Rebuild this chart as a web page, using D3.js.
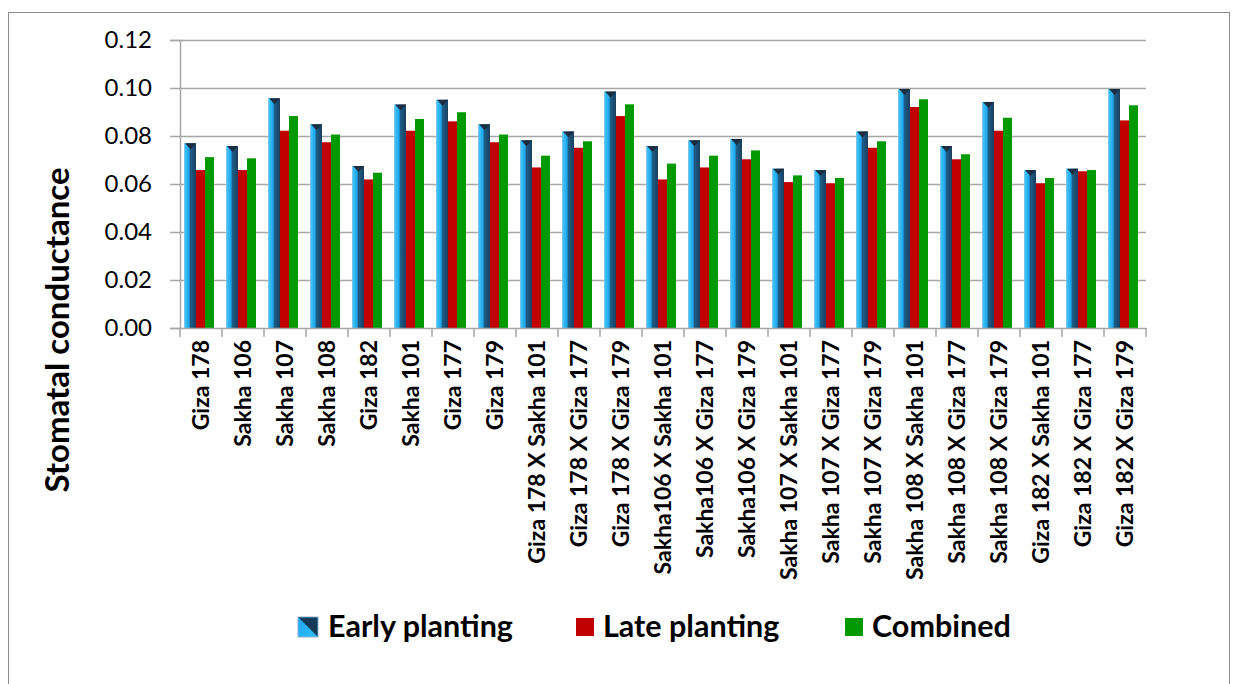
<!DOCTYPE html>
<html>
<head>
<meta charset="utf-8">
<script src="https://cdn.jsdelivr.net/npm/d3@7"></script>
<style>
  body { margin: 0; background: #fff; }
  svg { display: block; font-family: Lato, "Open Sans", sans-serif; }
</style>
</head>
<body>
<script>
let w = 1236;
let h = 684;

// genotypes / crosses on the x axis
let categories = [
    "Giza 178", "Sakha 106", "Sakha 107", "Sakha 108", "Giza 182", "Sakha 101",
    "Giza 177", "Giza 179", "Giza 178 X Sakha 101", "Giza 178 X Giza 177",
    "Giza 178 X Giza 179", "Sakha106 X Sakha 101", "Sakha106 X Giza 177",
    "Sakha106 X Giza 179", "Sakha 107 X Sakha 101", "Sakha 107 X Giza 177",
    "Sakha 107 X Giza 179", "Sakha 108 X Sakha 101", "Sakha 108 X Giza 177",
    "Sakha 108 X Giza 179", "Giza 182 X Sakha 101", "Giza 182 X Giza 177",
    "Giza 182 X Giza 179"
];

let seriesNames = ["Early planting", "Late planting", "Combined"];

let early = [0.0770, 0.0758, 0.0957, 0.0849, 0.0675, 0.0931, 0.0951, 0.0849, 0.0782, 0.0819,
             0.0985, 0.0758, 0.0782, 0.0788, 0.0664, 0.0658, 0.0819, 0.0996, 0.0758, 0.0942,
             0.0658, 0.0664, 0.0996];
let late = [0.0658, 0.0658, 0.0822, 0.0774, 0.0619, 0.0822, 0.0861, 0.0774, 0.0669, 0.0751,
            0.0883, 0.0619, 0.0669, 0.0703, 0.0608, 0.0603, 0.0751, 0.0921, 0.0703, 0.0822,
            0.0603, 0.0653, 0.0865];
let combined = [0.0712, 0.0707, 0.0883, 0.0806, 0.0647, 0.0871, 0.0899, 0.0806, 0.0718, 0.0778,
                0.0932, 0.0685, 0.0718, 0.0740, 0.0636, 0.0625, 0.0778, 0.0953, 0.0724, 0.0876,
                0.0625, 0.0658, 0.0928];

let yTicks = [0, 0.02, 0.04, 0.06, 0.08, 0.10, 0.12];

let seriesValues = [early, late, combined];
let colors = ["url(#earlyGrad)", "#c00000", "#009a00"];

let plotLeft = 180, plotRight = 1146, plotTop = 40, plotBottom = 328;

let svg = d3.select("body").append("svg")
    .attr("width", w)
    .attr("height", h);

let defs = svg.append("defs");
let grad = defs.append("linearGradient").attr("id", "earlyGrad")
    .attr("x1", "0%").attr("x2", "100%").attr("y1", "0%").attr("y2", "0%");
grad.append("stop").attr("offset", "0%").attr("stop-color", "#9cc6e8");
grad.append("stop").attr("offset", "12%").attr("stop-color", "#3cc0f8");
grad.append("stop").attr("offset", "42%").attr("stop-color", "#1fa6ea");
grad.append("stop").attr("offset", "52%").attr("stop-color", "#1d5f8a");
grad.append("stop").attr("offset", "100%").attr("stop-color", "#1a3f5e");

let legGrad = defs.append("linearGradient").attr("id", "legGrad")
    .attr("x1", "0%").attr("x2", "100%").attr("y1", "0%").attr("y2", "100%");
legGrad.append("stop").attr("offset", "0%").attr("stop-color", "#1ea7ee");
legGrad.append("stop").attr("offset", "100%").attr("stop-color", "#31bdf7");

// outer frame
svg.append("rect")
    .attr("x", 8.5).attr("y", 12.5)
    .attr("width", 1221).attr("height", 700)
    .attr("fill", "none").attr("stroke", "#8c8c8c");

let xScale = d3.scaleBand()
    .domain(categories)
    .range([plotLeft, plotRight]);

let x1 = d3.scaleBand()
    .domain(seriesNames)
    .range([4, 34]);

let yScale = d3.scaleLinear()
    .domain([0, 0.12])
    .range([plotBottom, plotTop]);

// gridlines
svg.append("g")
    .selectAll("line")
    .data(yTicks.slice(1))
    .enter()
    .append("line")
    .attr("x1", plotLeft).attr("x2", plotRight)
    .attr("y1", d => Math.round(yScale(d)) + 0.5)
    .attr("y2", d => Math.round(yScale(d)) + 0.5)
    .attr("stroke", "#a6a6a6")
    .attr("stroke-width", 1.5);

// y axis
let yAxis = d3.axisLeft(yScale)
    .tickValues(yTicks)
    .tickSize(10)
    .tickPadding(18)
    .tickFormat(d3.format(".2f"));

let gy = svg.append("g")
    .attr("transform", "translate(" + plotLeft + ",0)")
    .call(yAxis);
gy.select(".domain").attr("stroke", "#a6a6a6").attr("stroke-width", 1.5);
gy.selectAll(".tick line").attr("stroke", "#a6a6a6").attr("stroke-width", 1.5);
gy.selectAll("text")
    .style("font-family", "Lato")
    .style("font-size", "24px")
    .style("fill", "#000");

// bars
let groups = svg.append("g")
    .selectAll("g")
    .data(categories)
    .enter()
    .append("g")
    .attr("transform", d => "translate(" + xScale(d) + ",0)");

// early bars are a little wider (3D look), the two flat ones sit next to them
let bw = x1.bandwidth();
let barX = [0, 2, 1];
let barW = [bw + 2, bw - 1, bw - 1];

seriesNames.forEach(function(s, si) {
    groups.append("rect")
        .attr("x", x1(s) + barX[si])
        .attr("y", (d, i) => yScale(seriesValues[si][i]))
        .attr("width", barW[si])
        .attr("height", (d, i) => plotBottom - yScale(seriesValues[si][i]))
        .attr("fill", colors[si]);
});

// dark pointed cap on top of the early planting bars
groups.append("path")
    .attr("d", function(d, i) {
        let x0 = x1("Early planting");
        let y0 = yScale(early[i]);
        return "M" + (x0 + 1) + "," + y0 + "L" + (x0 + bw + 2) + "," + y0 +
            "L" + (x0 + bw * 0.65) + "," + (y0 + 6) + "Z";
    })
    .attr("fill", "#1b2d40");

// x axis
let xAxis = d3.axisBottom(xScale)
    .tickSize(0)
    .tickPadding(12);

let gx = svg.append("g")
    .attr("transform", "translate(0," + plotBottom + ")")
    .call(xAxis);
gx.select(".domain").attr("stroke", "#a6a6a6").attr("stroke-width", 1.5);
gx.selectAll("text")
    .attr("transform", "rotate(-90)")
    .attr("text-anchor", "end")
    .attr("x", -12)
    .attr("y", 0)
    .attr("dy", "0.36em")
    .style("font-family", "Lato")
    .style("font-weight", "bold")
    .style("font-size", "23px")
    .style("fill", "#000");

// category separator ticks
gx.append("g")
    .selectAll("line")
    .data(categories.concat(["end"]))
    .enter()
    .append("line")
    .attr("x1", (d, i) => i < categories.length ? xScale(d) : plotRight)
    .attr("x2", (d, i) => i < categories.length ? xScale(d) : plotRight)
    .attr("y1", 0).attr("y2", 9)
    .attr("stroke", "#a6a6a6")
    .attr("stroke-width", 1.5);

// y axis title
svg.append("text")
    .attr("transform", "translate(69,330) rotate(-90)")
    .attr("text-anchor", "middle")
    .style("font-family", "Lato")
    .style("font-weight", "bold")
    .style("font-size", "33px")
    .text("Stomatal conductance");

// legend
let legendX = [298, 576, 845];
let legend = svg.append("g")
    .selectAll("g")
    .data(seriesNames)
    .enter()
    .append("g")
    .attr("transform", (d, i) => "translate(" + legendX[i] + ",617)");

legend.append("rect")
    .attr("width", (d, i) => i == 0 ? 20 : 18)
    .attr("height", (d, i) => i == 0 ? 20 : 18)
    .attr("y", (d, i) => i == 0 ? 0 : 1)
    .attr("fill", (d, i) => i == 0 ? "url(#legGrad)" : colors[i])
    .attr("stroke", (d, i) => i == 0 ? "#8fb0d0" : "none");

legend.filter((d, i) => i == 0)
    .append("path")
    .attr("d", "M0.5,0.5L19.5,0.5L19.5,19.5Z")
    .attr("fill", "#143a58");

legend.append("text")
    .attr("x", (d, i) => i == 0 ? 30 : 27)
    .attr("y", 20)
    .style("font-family", "Lato")
    .style("font-weight", "bold")
    .style("font-size", "30.5px")
    .text(d => d);
</script>
</body>
</html>
